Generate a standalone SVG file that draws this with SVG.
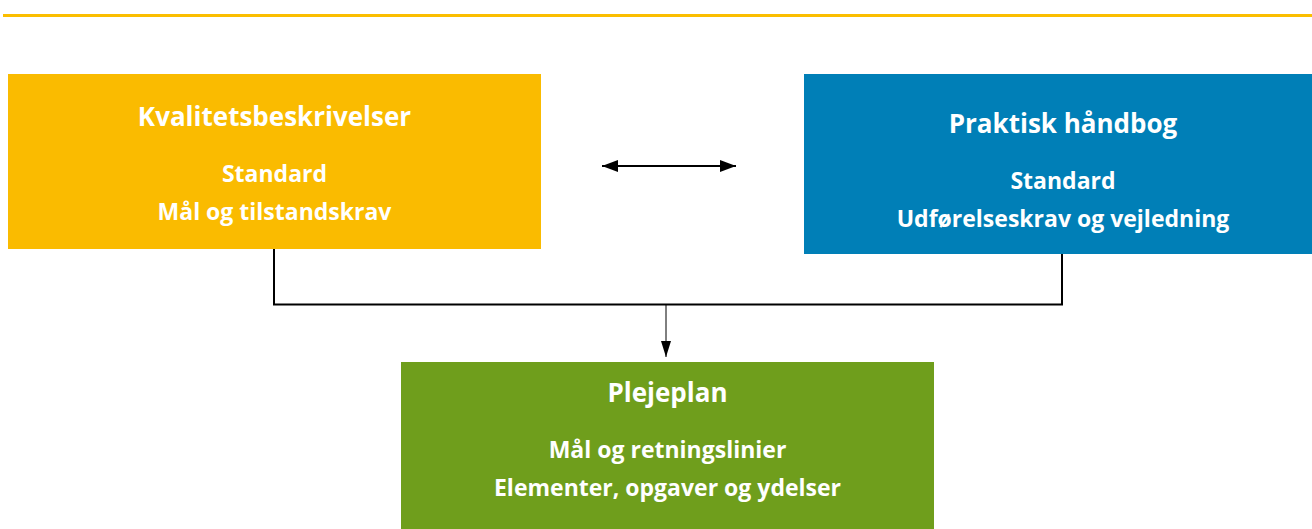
<svg xmlns="http://www.w3.org/2000/svg" width="1312" height="529" viewBox="0 0 1312 529">
<style>
.t{font-family:"Open Sans","Noto Sans","Liberation Sans",sans-serif;font-weight:bold;fill:#fff;text-anchor:middle}
.h{font-size:26px}
.s{font-size:23px}
.c{fill:none;stroke:#000}
</style>
<defs>
<marker id="ah" viewBox="0 0 16 12" refX="16" refY="6" markerWidth="16" markerHeight="12" markerUnits="userSpaceOnUse" orient="auto-start-reverse">
<path d="M0,0 L16,6 L0,12 Z" fill="#000"/>
</marker>
<marker id="ad" viewBox="0 0 10 16" refX="5" refY="16" markerWidth="10" markerHeight="16" markerUnits="userSpaceOnUse" orient="0">
<path d="M0,0 L10,0 L5,16 Z" fill="#000"/>
</marker>
</defs>
<rect x="3" y="14" width="1309" height="3" fill="#FBBE00"/>
<g id="kvalitet">
<rect x="8" y="74" width="533" height="175" fill="#FABB00"/>
<text class="t h" x="274.5" y="126">Kvalitetsbeskrivelser</text>
<text class="t s" x="274.5" y="182">Standard</text>
<text class="t s" x="274.5" y="220">Mål og tilstandskrav</text>
</g>
<g id="haandbog">
<rect x="804" y="74" width="508" height="180" fill="#007FB7"/>
<text class="t h" x="1063" y="133">Praktisk håndbog</text>
<text class="t s" x="1063" y="189">Standard</text>
<text class="t s" x="1063" y="227">Udførelseskrav og vejledning</text>
</g>
<g id="plejeplan">
<rect x="401" y="362" width="533" height="167" fill="#6F9E1C"/>
<text class="t h" x="667.5" y="402">Plejeplan</text>
<text class="t s" x="667.5" y="458">Mål og retningslinier</text>
<text class="t s" x="667.5" y="496">Elementer, opgaver og ydelser</text>
</g>
<g id="connectors">
<line class="c" x1="602" y1="166" x2="736" y2="166" stroke-width="2" marker-start="url(#ah)" marker-end="url(#ah)"/>
<polyline class="c" points="274,249 274,304.5 1062,304.5 1062,254" stroke-width="2"/>
<line class="c" x1="666" y1="305" x2="666" y2="357" stroke-width="1" marker-end="url(#ad)"/>
</g>
</svg>
